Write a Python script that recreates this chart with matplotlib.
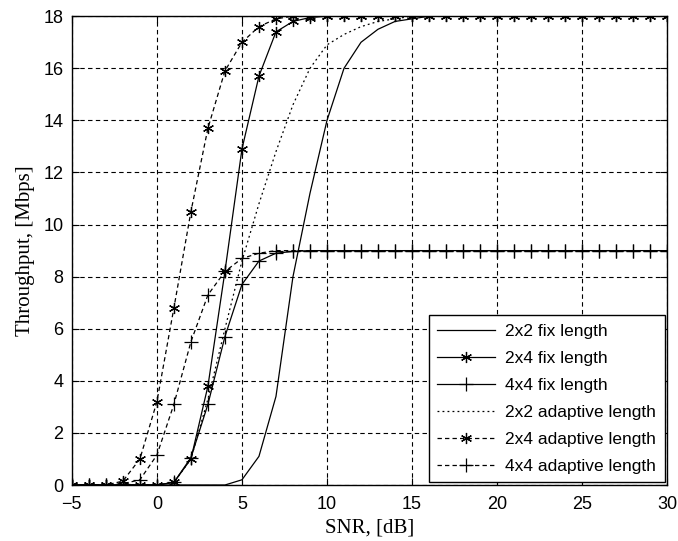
import numpy as np
import matplotlib
matplotlib.use('Agg')
import matplotlib.pyplot as plt

# data (SNR in dB, throughput in Mbps)
snr = list(range(-5, 31))

fix_2x2 = [0, 0, 0, 0, 0, 0, 0, 0, 0, 0,
           0.2, 1.1, 3.4, 8.0, 11.2, 14.0, 16.0, 17.0, 17.5, 17.8,
           17.9, 18, 18, 18, 18, 18, 18, 18, 18, 18,
           18, 18, 18, 18, 18, 18]
fix_2x4 = [0, 0, 0, 0, 0, 0, 0.1, 1.0, 3.8, 8.2,
           12.9, 15.7, 17.4, 17.8, 17.95, 18, 18, 18, 18, 18,
           18, 18, 18, 18, 18, 18, 18, 18, 18, 18,
           18, 18, 18, 18, 18, 18]
fix_4x4 = [0, 0, 0, 0, 0, 0, 0.1, 1.05, 3.1, 5.7,
           7.7, 8.6, 8.9, 8.97, 9, 9, 9, 9, 9, 9,
           9, 9, 9, 9, 9, 9, 9, 9, 9, 9,
           9, 9, 9, 9, 9, 9]
adp_2x2 = [0, 0, 0, 0, 0, 0, 0.1, 1.0, 3.3, 6.0,
           8.6, 10.8, 12.8, 14.6, 16.0, 16.9, 17.3, 17.6, 17.8, 17.9,
           18, 18, 18, 18, 18, 18, 18, 18, 18, 18,
           18, 18, 18, 18, 18, 18]
adp_2x4 = [0, 0, 0, 0.15, 1.0, 3.2, 6.8, 10.5, 13.7, 15.9,
           17.0, 17.6, 17.9, 18, 18, 18, 18, 18, 18, 18,
           18, 18, 18, 18, 18, 18, 18, 18, 18, 18,
           18, 18, 18, 18, 18, 18]
adp_4x4 = [0, 0, 0, 0.05, 0.2, 1.15, 3.1, 5.5, 7.3, 8.2,
           8.7, 8.9, 9.0, 9, 9, 9, 9, 9, 9, 9,
           9, 9, 9, 9, 9, 9, 9, 9, 9, 9,
           9, 9, 9, 9, 9, 9]

labels = ['2x2 fix length', '2x4 fix length', '4x4 fix length',
          '2x2 adaptive length', '2x4 adaptive length', '4x4 adaptive length']

sans = ['Liberation Sans', 'DejaVu Sans']
serif = ['Liberation Serif', 'DejaVu Serif']

fig = plt.figure(figsize=(6.78, 5.41), dpi=100)
ax = fig.add_axes([0.106, 0.1035, 0.878, 0.8665])

lw = 0.9
dash = (0, (3.5, 2.5))
star = (6, 2, 0)   # matlab-like asterisk
ax.plot(snr, fix_2x2, '-', color='k', lw=lw, label=labels[0])
ax.plot(snr, fix_2x4, '-', color='k', lw=lw, marker=star, ms=8, mew=0.9, label=labels[1])
ax.plot(snr, fix_4x4, '-', color='k', lw=lw, marker='+', ms=10, mew=0.9, label=labels[2])
ax.plot(snr, adp_2x2, color='k', lw=lw, linestyle=(0, (1.5, 2.5)), label=labels[3])
ax.plot(snr, adp_2x4, color='k', lw=lw, linestyle=dash, marker=star, ms=8, mew=0.9, label=labels[4])
ax.plot(snr, adp_4x4, color='k', lw=lw, linestyle=dash, marker='+', ms=10, mew=0.9, label=labels[5])

ax.set_xlim(-5, 30)
ax.set_ylim(0, 18)
ax.set_xticks(np.arange(-5, 31, 5))
ax.set_yticks(np.arange(0, 19, 2))
ax.grid(True, color='k', linestyle=(0, (4, 3)), linewidth=0.8)
ax.tick_params(direction='in', top=True, right=True, length=5, width=0.8, labelsize=13)
ax.tick_params(axis='x', pad=8)
ax.tick_params(axis='y', pad=6)
for lab in ax.get_xticklabels() + ax.get_yticklabels():
    lab.set_family(sans)
for s in ax.spines.values():
    s.set_linewidth(1.0)

ax.set_xlabel('SNR, [dB]', family=serif, fontsize=15, labelpad=4)
ax.set_ylabel('Throughput, [Mbps]', family=serif, fontsize=15, labelpad=6)

leg = ax.legend(loc='lower right', prop={'family': sans, 'size': 12.5}, frameon=True,
                fancybox=False, edgecolor='k', framealpha=1, handlelength=3.3,
                borderaxespad=0.15, labelspacing=0.68, borderpad=0.5, handletextpad=0.6)
leg.get_frame().set_linewidth(1.0)

fig.savefig('out.png', dpi=100)
